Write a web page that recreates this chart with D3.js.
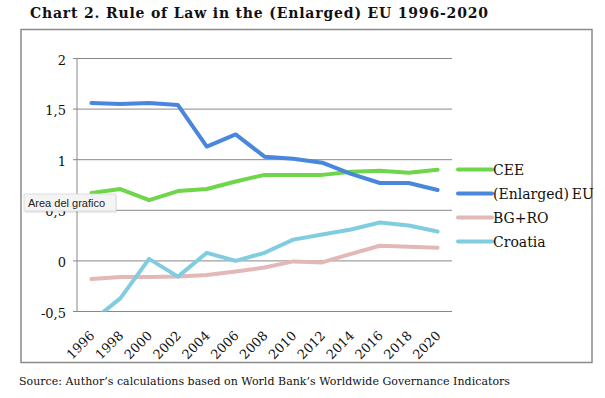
<!DOCTYPE html>
<html>
<head>
<meta charset="utf-8">
<script src="https://cdn.jsdelivr.net/npm/d3@7/dist/d3.min.js"></script>
<style>
body { margin: 0; background: #fff; }
svg { display: block; }
</style>
</head>
<body>
<svg id="chart" width="605" height="398"></svg>
<script>
var years = ["1996","1998","2000","2002","2004","2006","2008","2010","2012","2014","2016","2018","2020"]
var cee = [0.67, 0.71, 0.60, 0.69, 0.71, 0.785, 0.85, 0.85, 0.85, 0.88, 0.89, 0.87, 0.90]
var eu = [1.56, 1.55, 1.56, 1.54, 1.13, 1.25, 1.03, 1.01, 0.97, 0.86, 0.77, 0.77, 0.70]
var bgro = [-0.18, -0.16, -0.16, -0.155, -0.14, -0.105, -0.065, -0.005, -0.015, 0.07, 0.15, 0.14, 0.13]
var croatia = [-0.60, -0.37, 0.02, -0.155, 0.08, 0.00, 0.08, 0.21, 0.26, 0.31, 0.38, 0.35, 0.29]
var yTicks = [-0.5, 0, 0.5, 1, 1.5, 2]

var series = [
    {name: "CEE", values: cee, color: "#6fd64b"},
    {name: "(Enlarged)\u2009EU", values: eu, color: "#4a86db"},
    {name: "BG+RO", values: bgro, color: "#e3b8b8"},
    {name: "Croatia", values: croatia, color: "#80cde0"}
]

var margins = {top: 58.5, left: 77, right: 153, bottom: 86.5}
var width = 605 - margins.left - margins.right
var height = 398 - margins.top - margins.bottom

var svg = d3.select("#chart")
var serif = "'DejaVu Serif', 'Liberation Serif', serif"

// title
svg.append("text")
    .text("Chart 2. Rule of Law in the (Enlarged) EU 1996-2020")
    .attr("x", 30)
    .attr("y", 18)
    .attr("font-family", serif)
    .attr("font-weight", "bold")
    .attr("font-size", "14px")
    .attr("textLength", 458)
    .attr("fill", "#111")

// outer frame
svg.append("rect")
    .attr("x", 21).attr("y", 29.5)
    .attr("width", 571).attr("height", 333)
    .attr("fill", "none")
    .attr("stroke", "#8a8a8a")
    .attr("stroke-width", 1.5)

var xScale = d3.scaleBand()
    .domain(years)
    .range([0, width])
var yScale = d3.scaleLinear()
    .domain([-0.5, 2])
    .range([height, 0])

var g = svg.append("g")
    .attr("transform", "translate(" + margins.left + "," + margins.top + ")")

// gridlines
g.append("g").selectAll("line")
    .data(yTicks)
    .enter()
    .append("line")
    .attr("x1", -4).attr("x2", width)
    .attr("y1", function(d){ return yScale(d) })
    .attr("y2", function(d){ return yScale(d) })
    .attr("stroke", "#888")
    .attr("stroke-width", 1)

// y axis line
g.append("line")
    .attr("x1", 0).attr("x2", 0)
    .attr("y1", 0).attr("y2", height)
    .attr("stroke", "#888")

// y tick labels
g.append("g").selectAll("text")
    .data(yTicks)
    .enter()
    .append("text")
    .text(function(d){ return String(d).replace(".", ",") })
    .attr("x", -11)
    .attr("y", function(d){ return yScale(d) + 6 })
    .attr("text-anchor", "end")
    .attr("font-family", serif)
    .attr("font-size", "13px")
    .attr("fill", "#111")

// x tick labels
g.append("g").selectAll("text")
    .data(years)
    .enter()
    .append("text")
    .text(function(d){ return d })
    .attr("text-anchor", "end")
    .attr("font-family", serif)
    .attr("font-size", "13px")
    .attr("fill", "#111")
    .attr("transform", function(d){
        return "translate(" + (xScale(d) + xScale.bandwidth()/2 + 4) + "," + (height + 25) + ") rotate(-45)"
    })

// clip
svg.append("clipPath").attr("id", "plotclip")
    .append("rect")
    .attr("x", 0).attr("y", -10)
    .attr("width", width + 10).attr("height", height + 10)

var line = d3.line()
    .x(function(d, i){ return xScale(years[i]) + xScale.bandwidth()/2 })
    .y(function(d){ return yScale(d) })

g.append("g").attr("clip-path", "url(#plotclip)")
    .selectAll("path")
    .data(series)
    .enter()
    .append("path")
    .attr("d", function(s){ return line(s.values) })
    .attr("fill", "none")
    .attr("stroke", function(s){ return s.color })
    .attr("stroke-width", 4)
    .attr("stroke-linejoin", "round")
    .attr("stroke-linecap", "round")

// legend
var leg = svg.append("g")
    .attr("transform", "translate(457,169.5)")
var items = leg.selectAll("g")
    .data(series)
    .enter()
    .append("g")
    .attr("transform", function(s, i){ return "translate(0," + (i * 24) + ")" })
items.append("line")
    .attr("x1", 1).attr("x2", 35)
    .attr("stroke", function(s){ return s.color })
    .attr("stroke-width", 4)
    .attr("stroke-linecap", "round")
items.append("text")
    .text(function(s){ return s.name })
    .attr("x", 36)
    .attr("y", 5)
    .attr("font-family", serif)
    .attr("font-size", "14px")
    .attr("fill", "#111")

// tooltip box
var tip = svg.append("g").attr("transform", "translate(24,194)")
tip.append("rect")
    .attr("x", 1).attr("y", 2)
    .attr("width", 92).attr("height", 17)
    .attr("fill", "#000").attr("opacity", 0.08)
tip.append("rect")
    .attr("width", 92).attr("height", 17)
    .attr("fill", "#f4f4f4")
    .attr("stroke", "#d6d6d6")
    .attr("stroke-width", 0.8)
tip.append("text")
    .text("Area del grafico")
    .attr("x", 4).attr("y", 12.5)
    .attr("font-family", "'Liberation Sans', Arial, sans-serif")
    .attr("font-size", "11px")
    .attr("fill", "#222")

// source
svg.append("text")
    .text("Source: Author\u2019s calculations based on World Bank\u2019s Worldwide Governance Indicators")
    .attr("x", 19)
    .attr("y", 385)
    .attr("font-family", serif)
    .attr("font-size", "11px")
    .attr("textLength", 491)
    .attr("fill", "#111")
</script>
</body>
</html>
